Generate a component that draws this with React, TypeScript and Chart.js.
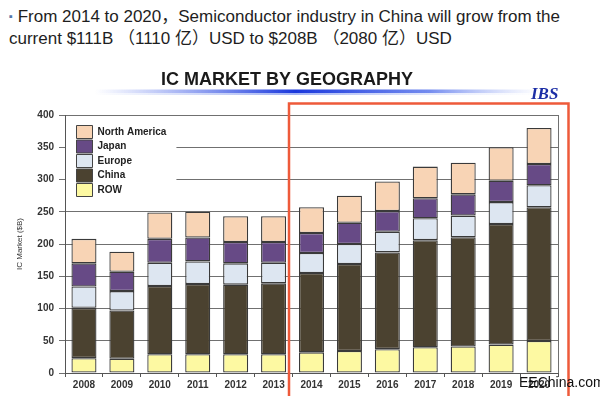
import React, { useEffect, useRef } from "react";
import { Chart, registerables } from "chart.js";

Chart.register(...registerables);

const years = ["2008", "2009", "2010", "2011", "2012", "2013", "2014", "2015", "2016", "2017", "2018", "2019", "2020"];
const rowValues = [23, 22, 29, 29, 29, 29, 32, 34, 37, 40, 41, 44, 49.5];
const chinaValues = [78, 75, 106, 109, 108, 110, 123, 135, 150, 166, 169.5, 187, 207.5];
const europeValues = [33, 30, 36, 35, 33, 32, 31, 31, 32, 34, 33.5, 34, 34];
const japanValues = [36, 30, 37, 37, 33, 32, 31, 33, 32, 31, 33, 33, 33];
const northAmericaValues = [38, 31, 41, 40, 40, 40, 40, 42, 46, 49, 49, 52, 56];
const yTickValues = [0, 50, 100, 150, 200, 250, 300, 350, 400];

const FONT = "Arial, 'Liberation Sans', Helvetica, sans-serif";
const LEGEND_BOX_W = 16;
const LEGEND_BOX_H = 13;
const LEGEND_PAD = 1.5;

const decorPlugin = {
  id: "decor",
  afterLayout(chart: any) {
    const lg = chart.legend;
    const ca = chart.chartArea;
    if (lg && ca) {
      const w = lg.width;
      const h = lg.height;
      lg.left = ca.left + 10;
      lg.top = ca.top + 9;
      lg.right = lg.left + w;
      lg.bottom = lg.top + h;
    }
  },
  beforeDatasetsDraw(chart: any) {
    const { ctx, chartArea, legend } = chart;
    if (!legend) return;
    ctx.save();
    ctx.font = `bold 10px ${FONT}`;
    const items = legend.legendItems || [];
    const textW = Math.max(...items.map((it: any) => ctx.measureText(it.text).width));
    const right = legend.left + LEGEND_PAD + LEGEND_BOX_W + 5 + textW + 10;
    const bottom = legend.top + items.length * (LEGEND_BOX_H + LEGEND_PAD) + 8;
    ctx.fillStyle = "#ffffff";
    ctx.fillRect(chartArea.left + 1, chartArea.top + 1, right - chartArea.left - 1, bottom - chartArea.top - 1);
    ctx.restore();
    legend.draw();
  },
  afterDraw(chart: any) {
    const { ctx, chartArea } = chart;
    ctx.save();
    // right frame border
    ctx.strokeStyle = "#707070";
    ctx.lineWidth = 1;
    ctx.beginPath();
    ctx.moveTo(chartArea.right + 0.5, chartArea.top);
    ctx.lineTo(chartArea.right + 0.5, chartArea.bottom);
    ctx.stroke();

    // title
    ctx.fillStyle = "#1a1a1a";
    ctx.font = `bold 18px ${FONT}`;
    ctx.textAlign = "center";
    ctx.textBaseline = "alphabetic";
    ctx.fillText("IC MARKET BY GEOGRAPHY", 287, 85);

    // gradient rule under title
    const g = ctx.createLinearGradient(95, 0, 540, 0);
    g.addColorStop(0, "rgba(70,100,235,0)");
    g.addColorStop(0.45, "rgba(25,55,220,1)");
    g.addColorStop(0.75, "rgba(80,110,235,0.8)");
    g.addColorStop(1, "rgba(150,170,245,0)");
    ctx.fillStyle = g;
    ctx.fillRect(95, 89.5, 445, 3.5);
    const g2 = ctx.createLinearGradient(95, 0, 540, 0);
    g2.addColorStop(0, "rgba(150,170,240,0)");
    g2.addColorStop(0.45, "rgba(140,160,240,0.8)");
    g2.addColorStop(1, "rgba(200,210,250,0)");
    ctx.fillStyle = g2;
    ctx.fillRect(95, 93, 445, 2);

    // IBS logo text
    ctx.fillStyle = "#1c2ea6";
    ctx.font = `italic bold 17px 'Liberation Serif', 'Times New Roman', serif`;
    ctx.textAlign = "left";
    ctx.fillText("IBS", 531, 99);

    // red highlight frame
    ctx.strokeStyle = "#ee5a3a";
    ctx.lineWidth = 2.5;
    ctx.strokeRect(289, 103.5, 279.5, 300);

    // watermark
    ctx.fillStyle = "#111111";
    ctx.font = `14px ${FONT}`;
    ctx.textAlign = "left";
    ctx.textBaseline = "middle";
    ctx.fillText("EEChina.com", 519, 383);
    ctx.restore();
  },
};

export default function App() {
  const canvasRef = useRef<HTMLCanvasElement | null>(null);

  useEffect(() => {
    if (!canvasRef.current) return;
    const border = "#3a3a3a";
    const mk = (label: string, data: number[], color: string) => ({
      label,
      data,
      backgroundColor: color,
      borderColor: border,
      borderWidth: 1.3,
      borderSkipped: false,
      categoryPercentage: 1,
      barPercentage: 0.66,
    });
    const chart = new Chart(canvasRef.current, {
      type: "bar",
      data: {
        labels: years,
        datasets: [
          mk("ROW", rowValues, "#fdf9a2"),
          mk("China", chinaValues, "#4b4230"),
          mk("Europe", europeValues, "#dde6f1"),
          mk("Japan", japanValues, "#674a86"),
          mk("North America", northAmericaValues, "#f8d4b5"),
        ],
      },
      options: {
        responsive: false,
        animation: false,
        devicePixelRatio: 1,
        layout: { padding: { top: 115, bottom: 0, left: 0, right: 42 } },
        plugins: {
          legend: {
            position: "chartArea" as any,
            align: "start",
            reverse: true,
            labels: {
              boxWidth: LEGEND_BOX_W,
              boxHeight: LEGEND_BOX_H,
              padding: LEGEND_PAD,
              color: "#222",
              font: { family: FONT, size: 10, weight: "bold" },
              generateLabels: (c: any) =>
                c.data.datasets.map((ds: any, i: number) => ({
                  text: ds.label,
                  fillStyle: ds.backgroundColor,
                  strokeStyle: "#444",
                  lineWidth: 1,
                  hidden: false,
                  datasetIndex: i,
                  fontColor: "#222",
                })),
            },
          },
          title: { display: false },
          tooltip: { enabled: false },
        },
        scales: {
          x: {
            stacked: true,
            afterFit: (s: any) => {
              s.height = 23;
            },
            grid: {
              display: true,
              drawOnChartArea: false,
              drawTicks: true,
              tickLength: 4,
              offset: true,
              color: "#555",
            },
            border: { display: true, color: "#555", width: 1 },
            ticks: {
              color: "#333",
              padding: 2,
              font: { family: FONT, size: 10, weight: "bold" },
              maxRotation: 0,
              autoSkip: false,
            },
          },
          y: {
            stacked: true,
            min: 0,
            max: 400,
            afterFit: (s: any) => {
              s.width = 65;
            },
            afterBuildTicks: (s: any) => {
              s.ticks = yTickValues.map((v) => ({ value: v }));
            },
            grid: {
              color: "#707070",
              lineWidth: 1,
              tickLength: 6,
              drawTicks: true,
            },
            border: { display: true, color: "#555", width: 1 },
            ticks: {
              color: "#333",
              padding: 5,
              font: { family: FONT, size: 10, weight: "bold" },
            },
            title: {
              display: true,
              text: "IC Market ($B)",
              color: "#333",
              font: { family: FONT, size: 8 },
              padding: { top: 15, bottom: 0 },
            },
          },
        },
      },
      plugins: [decorPlugin],
    });
    return () => chart.destroy();
  }, []);

  return (
    <div style={{ position: "fixed", left: 0, top: 0, width: 600, height: 396, background: "#fff", overflow: "hidden" }}>
      <div
        style={{
          position: "absolute",
          left: 9,
          top: 5,
          fontFamily: `Arial, 'Liberation Sans', 'Noto Sans CJK SC', sans-serif`,
          fontSize: 17,
          lineHeight: "22px",
          color: "#1e1e1e",
          whiteSpace: "nowrap",
        }}
      >
        <div>
          <span style={{ color: "#5577aa", fontSize: 11, verticalAlign: "2px" }}>▪</span> From 2014 to 2020，Semiconductor industry in China will grow from the
        </div>
        <div>current $111B （1110 亿）USD to $208B （2080 亿）USD</div>
      </div>
      <canvas ref={canvasRef} width={600} height={396} style={{ position: "absolute", left: 0, top: 0, width: 600, height: 396 }} />
    </div>
  );
}
